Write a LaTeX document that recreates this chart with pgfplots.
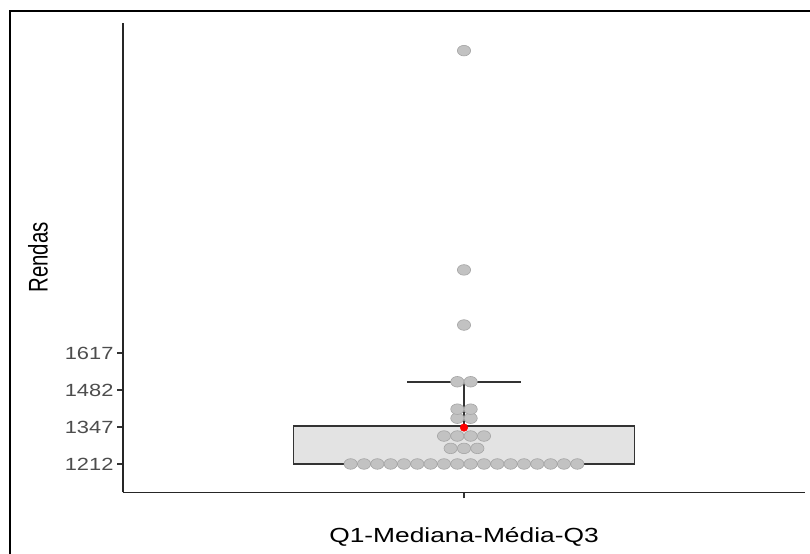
\documentclass[border=0pt]{standalone}
\usepackage{graphicx}
\usepackage{fontspec}
\setmainfont{Liberation Sans}
\usepackage{pgfplots}
\pgfplotsset{compat=1.18}
\definecolor{tickgray}{HTML}{4D4D4D}
\definecolor{boxfill}{HTML}{E3E3E3}
\definecolor{boxedge}{HTML}{333333}
\definecolor{dotfill}{HTML}{C2C2C2}
\definecolor{dotedge}{HTML}{A5A5A5}
\newcommand{\sx}[1]{\scalebox{1.24}[1]{#1}}
\begin{document}
\begin{tikzpicture}
\useasboundingbox (0,0) rectangle (810bp,554bp);
\draw[line width=2bp, black] (10.3bp,0bp) -- (10.3bp,542.5bp) -- (810bp,542.5bp);
\begin{axis}[
  at={(123bp,61.7bp)}, anchor=south west,
  scale only axis, width=682bp, height=469.6bp,
  xmin=0.4, xmax=1.6, ymin=1108.7, ymax=2822,
  axis lines*=left,
  axis line style={black!85, line width=1.3bp},
  xtick={1}, xticklabels={},
  ytick={1212,1347,1482,1617},
  yticklabels={\sx{1212},\sx{1347},\sx{1482},\sx{1617}},
  tick style={black!80, line width=1.1bp},
  major tick length=6bp, tick align=outside,
  yticklabel style={font=\fontsize{17.7}{20}\selectfont, text=tickgray},
  xlabel={\scalebox{1.29}[1]{Q1-Mediana-Média-Q3}},
  xlabel style={at={(axis description cs:0.5,-0.1073)}, anchor=base, font=\fontsize{20.5}{24}\selectfont},
  ylabel={\scalebox{1}[1.32]{Rendas}},
  ylabel style={at={(axis description cs:-0.1248,0.5)}, anchor=center, font=\fontsize{20.5}{24}\selectfont},
  clip=false,
]
% box Q1 = median = 1212, Q3 = 1350
\addplot[fill=boxfill, draw=boxedge, line width=1.8bp] coordinates {(0.7,1212) (1.3,1212) (1.3,1350) (0.7,1350)} -- cycle;
% dots
\addplot[only marks, mark=*, mark size=5.3bp, mark options={xscale=1.25, fill=dotfill, draw=dotedge, line width=0.6bp}] coordinates {
(0.8006,1212) (0.8241,1212) (0.8475,1212) (0.8710,1212) (0.8944,1212) (0.9179,1212)
(0.9413,1212) (0.9648,1212) (0.9883,1212) (1.0117,1212) (1.0352,1212) (1.0587,1212)
(1.0821,1212) (1.1056,1212) (1.1290,1212) (1.1525,1212) (1.1759,1212) (1.1994,1212)
(0.9765,1269) (1.0000,1269) (1.0235,1269)
(0.9648,1314) (0.9883,1314) (1.0117,1314) (1.0352,1314)
(0.9883,1379) (1.0117,1379)
(0.9883,1412) (1.0117,1412)
(0.9883,1512) (1.0117,1512)
(1.0,1719) (1.0,1920) (1.0,2720)
};
% median line
\addplot[draw=boxedge, line width=2.6bp] coordinates {(0.7,1212) (1.3,1212)};
% whisker
\addplot[draw=boxedge, line width=1.8bp] coordinates {(1,1350) (1,1512)};
\addplot[draw=boxedge, line width=1.8bp] coordinates {(0.9,1512) (1.1,1512)};
% mean
\addplot[only marks, mark=*, mark size=3.8bp, mark options={fill=red, draw=red}] coordinates {(1,1345)};
\end{axis}
\end{tikzpicture}
\end{document}
